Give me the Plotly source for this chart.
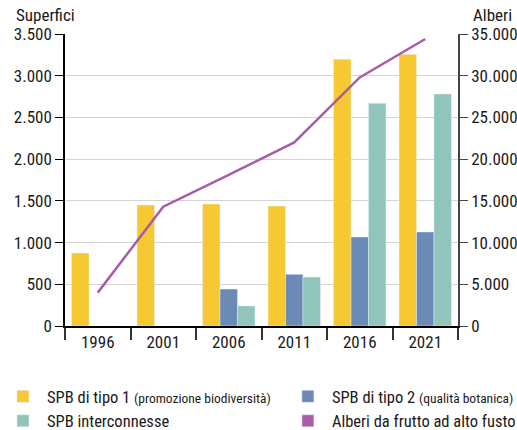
import plotly.graph_objects as go

years = ["1996", "2001", "2006", "2011", "2016", "2021"]
spb_tipo1 = [875, 1450, 1462, 1438, 3197, 3257]
spb_tipo2 = [None, None, 443, 619, 1067, 1127]
spb_inter = [None, None, 240, 587, 2669, 2781]
alberi = [4000, 14300, 18100, 22000, 29800, 34400]

names = [
    "SPB di tipo 1 <span style='font-size:13.5px'>(promozione biodiversità)</span>",
    "SPB di tipo 2 <span style='font-size:13.5px'>(qualità botanica)</span>",
    "SPB interconnesse",
    "Alberi da frutto ad alto fusto",
]
colors = ["#F6C933", "#6B8AB5", "#91C4BB", "#A95CA7"]

FONT = "Roboto Condensed, Liberation Sans Narrow, DejaVu Sans Condensed, sans-serif"

fig = go.Figure()
fig.add_trace(go.Bar(x=years, y=spb_tipo1, name=names[0], marker_color=colors[0], legend="legend"))
fig.add_trace(go.Bar(x=years, y=spb_tipo2, name=names[1], marker_color=colors[1], legend="legend2"))
fig.add_trace(go.Bar(x=years, y=spb_inter, name=names[2], marker_color=colors[2], legend="legend"))
fig.add_trace(go.Scatter(x=years, y=alberi, name=names[3], mode="lines",
                         line=dict(color=colors[3], width=2.5), yaxis="y2", showlegend=False))
# legend-only square for the line series
fig.add_trace(go.Bar(x=[None], y=[None], name=names[3], marker_color=colors[3],
                     yaxis="y2", legend="legend2"))

leg_common = dict(orientation="v", yanchor="top", xanchor="left", font=dict(size=16.5),
                  traceorder="normal", itemclick=False, itemdoubleclick=False,
                  bgcolor="rgba(0,0,0,0)", tracegroupgap=0, itemwidth=38)

fig.update_layout(
    width=517, height=430,
    margin=dict(l=65, r=59, t=34, b=104, autoexpand=False),
    paper_bgcolor="white", plot_bgcolor="white",
    font=dict(family=FONT, size=17, color="#1a1a1a"),
    separators=",.",
    barmode="group", bargap=0.2, bargroupgap=0,
    xaxis=dict(type="category", tickson="boundaries", ticks="outside", ticklen=12,
               tickcolor="#333", tickwidth=1.5, showline=True, linecolor="black", linewidth=2,
               showgrid=False, tickfont=dict(size=17), automargin=False),
    yaxis=dict(range=[0, 3500], dtick=500, tickformat=",d", showgrid=True, gridcolor="#d4d4d4",
               gridwidth=1.2, showline=True, linecolor="black", linewidth=1.5, ticks="outside",
               ticklen=8, tickcolor="black", zeroline=False, tickfont=dict(size=17),
               automargin=False),
    yaxis2=dict(range=[0, 35000], dtick=5000, tickformat=",d", overlaying="y", side="right",
                showgrid=False, showline=True, linecolor="#444", linewidth=1.5, ticks="outside",
                ticklen=8, tickcolor="#444", zeroline=False, tickfont=dict(size=17),
                automargin=False),
    legend=dict(x=-0.168, y=-0.182, **leg_common),
    legend2=dict(x=0.557, y=-0.182, **leg_common),
    annotations=[
        dict(text="Superfici", xref="paper", yref="paper", x=-0.13, y=1.065,
             xanchor="left", yanchor="middle", showarrow=False, font=dict(size=17)),
        dict(text="Alberi", xref="paper", yref="paper", x=1.1425, y=1.065,
             xanchor="right", yanchor="middle", showarrow=False, font=dict(size=17)),
    ],
)

fig.write_html("out.html", config={"displayModeBar": False},
               post_script="document.body.style.margin='0';")
